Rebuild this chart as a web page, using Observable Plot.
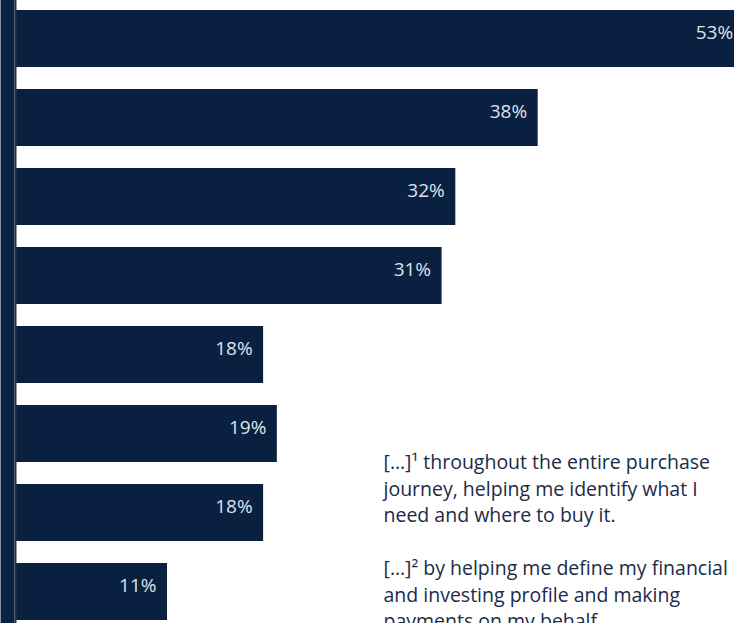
<!DOCTYPE html>
<html>
<head>
<meta charset="utf-8">
<script src="https://cdn.jsdelivr.net/npm/d3@7"></script>
<script src="https://cdn.jsdelivr.net/npm/@observablehq/plot@0.6"></script>
<style>
  html, body { margin: 0; padding: 0; background: #fff; overflow: hidden; }
  #chart svg { display: block; }
</style>
</head>
<body>
<div id="chart"></div>
<script>
const items = ["Item 1", "Item 2", "Item 3", "Item 4", "Item 5", "Item 6", "Item 7", "Item 8"];
const shares = [53, 38, 32, 31, 18, 19, 18, 11];
const valueLabels = ["53%", "38%", "32%", "31%", "18%", "19%", "18%", "11%"];
const noteText = "[…]¹ throughout the entire purchase\njourney, helping me identify what I\nneed and where to buy it.\n\n[…]² by helping me define my financial\nand investing profile and making\npayments on my behalf.";

const data = items.map((item, i) => ({item, share: shares[i], label: valueLabels[i]}));
const navy = "#0a2040";

const chart = Plot.plot({
  width: 734,
  height: 623,
  marginLeft: 16,
  marginRight: 0,
  marginTop: 9,
  marginBottom: 2,
  style: {fontFamily: "'Open Sans', 'Noto Sans', sans-serif", background: "#fff"},
  x: {domain: [0, 52.3], axis: null},
  y: {domain: items, axis: null, paddingInner: 0.274, paddingOuter: 0},
  marks: [
    Plot.barX(data, {x: "share", y: "item", fill: navy}),
    Plot.text(data, {
      x: "share", y: "item", text: "label",
      textAnchor: "end", dx: -11, dy: -6,
      fill: "#dfe3ea", fontSize: 19
    }),
    Plot.ruleX([0], {stroke: "#0c2242", strokeWidth: 14, dx: -9, insetTop: -9, insetBottom: -2}),
    Plot.ruleX([0], {stroke: "#2e3138", strokeWidth: 2, dx: -1, insetTop: -9, insetBottom: -2}),
    Plot.text([noteText], {
      frameAnchor: "top-left", text: d => d,
      textAnchor: "start", lineAnchor: "top",
      dx: 367, dy: 441, fontSize: 19.5, lineHeight: 1.36,
      fill: "#1c2b46"
    })
  ]
});
document.getElementById("chart").appendChild(chart);
</script>
</body>
</html>
